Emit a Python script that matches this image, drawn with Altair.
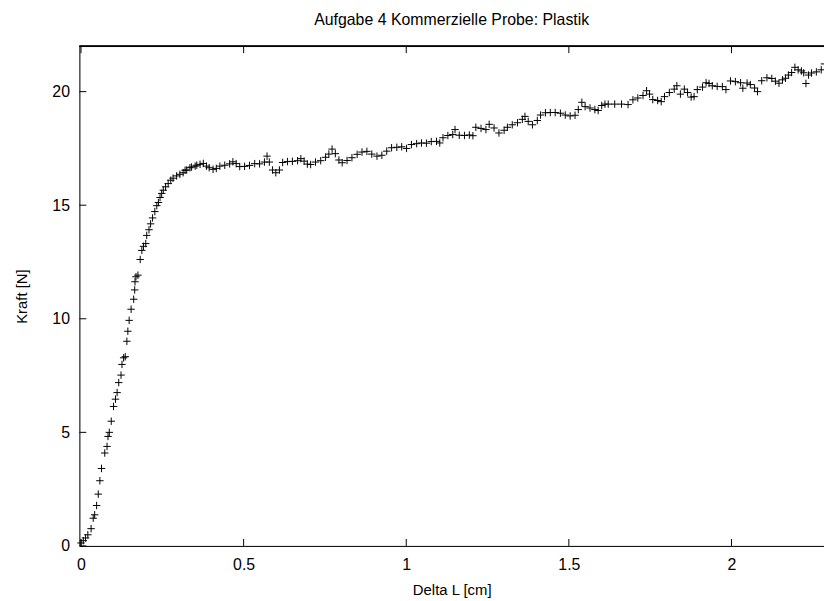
import altair as alt
import pandas as pd

# Rise section (Delta L in cm, Kraft in N)
rise_x = [0.0, 0.007, 0.014, 0.021, 0.031, 0.0375, 0.042, 0.048, 0.053, 0.058, 0.063, 0.073, 0.08, 0.083,
          0.087, 0.093, 0.1, 0.106, 0.111, 0.116, 0.123, 0.126, 0.131, 0.136, 0.141, 0.144, 0.148, 0.154,
          0.162, 0.165, 0.166, 0.169, 0.175, 0.182, 0.187, 0.192, 0.199, 0.202, 0.209, 0.214, 0.22, 0.227,
          0.233, 0.238, 0.243, 0.248, 0.253, 0.26, 0.268, 0.276, 0.283, 0.294, 0.304, 0.314]
rise_y = [0.13, 0.23, 0.35, 0.49, 0.76, 1.22, 1.37, 1.78, 2.28, 2.87, 3.41, 4.09, 4.38, 4.82,
          5.0, 5.49, 6.14, 6.46, 6.75, 7.19, 7.52, 7.99, 8.28, 8.33, 9.01, 9.45, 9.93, 10.42,
          10.86, 11.27, 11.63, 11.85, 11.92, 12.61, 13.01, 13.19, 13.31, 13.67, 13.92, 14.18, 14.44, 14.72,
          14.98, 15.12, 15.34, 15.52, 15.66, 15.81, 15.95, 16.1, 16.19, 16.29, 16.36, 16.43]

# Plateau / hardening section
plat_x = [0.320, 0.325, 0.335, 0.340, 0.351, 0.356, 0.366, 0.376, 0.386, 0.394, 0.406, 0.416, 0.427, 0.442,
          0.457, 0.467, 0.477, 0.488, 0.503, 0.518, 0.534, 0.549, 0.564, 0.572, 0.579, 0.589, 0.599, 0.610,
          0.620, 0.635, 0.650, 0.666, 0.676, 0.686, 0.696, 0.706, 0.721, 0.737, 0.752, 0.762, 0.772, 0.782,
          0.793, 0.803, 0.818, 0.833, 0.849, 0.864, 0.879, 0.894, 0.910, 0.925, 0.940, 0.955, 0.971, 0.986,
          1.001, 1.016, 1.032, 1.047, 1.062, 1.077, 1.093, 1.103, 1.113, 1.128, 1.143, 1.150, 1.163, 1.179,
          1.194, 1.205, 1.214, 1.230, 1.245, 1.255, 1.270, 1.285, 1.301, 1.311, 1.326, 1.342, 1.357, 1.365,
          1.375, 1.388, 1.403, 1.413, 1.428, 1.443, 1.458, 1.474, 1.489, 1.504, 1.519, 1.529, 1.540, 1.550,
          1.565, 1.580, 1.590, 1.601, 1.611, 1.621, 1.641, 1.662, 1.682, 1.697, 1.712, 1.728, 1.739, 1.748,
          1.758, 1.773, 1.784, 1.794, 1.809, 1.824, 1.832, 1.843, 1.855, 1.865, 1.876, 1.885, 1.895, 1.911,
          1.922, 1.931, 1.941, 1.956, 1.972, 1.983, 1.997, 2.012, 2.028, 2.035, 2.048, 2.058, 2.071, 2.080,
          2.093, 2.109, 2.124, 2.135, 2.146, 2.157, 2.166, 2.175, 2.185, 2.195, 2.205, 2.215, 2.222, 2.229,
          2.237, 2.246, 2.261, 2.276, 2.286]
plat_y = [16.54, 16.55, 16.65, 16.68, 16.72, 16.76, 16.80, 16.84, 16.72, 16.65, 16.58, 16.62, 16.72, 16.76,
          16.82, 16.91, 16.83, 16.70, 16.71, 16.75, 16.83, 16.82, 16.90, 17.16, 16.90, 16.55, 16.43, 16.55,
          16.88, 16.92, 16.93, 16.96, 17.05, 16.94, 16.81, 16.79, 16.90, 16.96, 17.11, 17.25, 17.47, 17.27,
          16.99, 16.87, 16.97, 17.09, 17.24, 17.34, 17.37, 17.25, 17.16, 17.20, 17.38, 17.53, 17.55, 17.57,
          17.50, 17.67, 17.71, 17.74, 17.73, 17.80, 17.81, 17.74, 17.97, 18.07, 18.11, 18.33, 18.08, 18.07,
          18.09, 18.06, 18.43, 18.38, 18.33, 18.56, 18.40, 18.18, 18.30, 18.43, 18.54, 18.63, 18.78, 18.91,
          18.69, 18.54, 18.73, 18.97, 19.07, 19.08, 19.08, 19.05, 18.97, 18.93, 18.96, 19.21, 19.53, 19.34,
          19.28, 19.21, 19.17, 19.39, 19.45, 19.45, 19.45, 19.45, 19.43, 19.64, 19.72, 19.83, 20.04, 19.89,
          19.65, 19.61, 19.56, 19.78, 19.96, 20.11, 20.26, 19.89, 20.11, 19.96, 19.76, 19.78, 20.09, 20.20,
          20.39, 20.36, 20.26, 20.23, 20.22, 20.09, 20.47, 20.44, 20.39, 20.15, 20.38, 20.31, 20.16, 20.00,
          20.48, 20.61, 20.58, 20.46, 20.37, 20.52, 20.59, 20.73, 20.84, 21.07, 20.96, 20.91, 20.83, 20.36,
          20.73, 20.82, 20.87, 20.96, 21.22]

x_ticks = [0, 0.5, 1, 1.5, 2]
y_ticks = [0, 5, 10, 15, 20]

W, H = 751, 504
X_DOMAIN = [-0.005, 2.2845]
Y_DOMAIN = [0, 22]
FONT = "Liberation Sans"

df = pd.DataFrame({"x": rise_x + plat_x, "y": rise_y + plat_y})
xt = pd.DataFrame({"t": x_ticks})
yt = pd.DataFrame({"t": y_ticks})

xs = alt.Scale(domain=X_DOMAIN, nice=False, zero=False)
ys = alt.Scale(domain=Y_DOMAIN, nice=False, zero=False)

x_axis = alt.Axis(values=x_ticks, format="~g", ticks=False, tickSize=0, grid=False, domainColor="black",
                  domainWidth=1, labelFont=FONT, labelFontSize=16, labelColor="black", labelPadding=11,
                  titleFont=FONT, titleFontSize=15, titleFontWeight="normal", titleColor="black",
                  titlePadding=10, labelFlush=False)
y_axis = alt.Axis(values=y_ticks, format="~g", ticks=False, tickSize=0, grid=False, domainColor="black",
                  domainWidth=1, labelFont=FONT, labelFontSize=16, labelColor="black", labelPadding=10,
                  titleFont=FONT, titleFontSize=15, titleFontWeight="normal", titleColor="black",
                  titlePadding=23, labelFlush=False)

points = alt.Chart(df).mark_point(
    shape="M-1,0L1,0M0,-1L0,1", filled=False, color="black", strokeWidth=1, size=56, opacity=1
).encode(
    x=alt.X("x:Q", scale=xs, axis=x_axis, title="Delta L [cm]"),
    y=alt.Y("y:Q", scale=ys, axis=y_axis, title="Kraft [N]"),
)

xtick_bottom = alt.Chart(xt).mark_rule(color="black", strokeWidth=1).encode(
    x=alt.X("t:Q", scale=xs), y=alt.value(H), y2=alt.value(H - 7))
xtick_top = alt.Chart(xt).mark_rule(color="black", strokeWidth=1).encode(
    x=alt.X("t:Q", scale=xs), y=alt.value(0), y2=alt.value(7))
ytick_left = alt.Chart(yt).mark_rule(color="black", strokeWidth=1).encode(
    y=alt.Y("t:Q", scale=ys), x=alt.value(0), x2=alt.value(7))
top_border = alt.Chart(xt).mark_rule(color="black", strokeWidth=1).encode(
    x=alt.value(0), x2=alt.value(W + 5), y=alt.value(0))

chart = alt.layer(points, xtick_bottom, xtick_top, ytick_left, top_border).properties(
    width=W, height=H,
    title=alt.TitleParams("Aufgabe 4 Kommerzielle Probe: Plastik", font=FONT, fontSize=16,
                          fontWeight="normal", color="black", anchor="middle", offset=18),
    autosize=alt.AutoSizeParams(type="none"),
    padding={"left": 72, "top": 36, "right": 0, "bottom": 50},
).configure_view(stroke=None).configure(background="white")

chart.save("out.html", embed_options={"renderer": "svg", "actions": False})
